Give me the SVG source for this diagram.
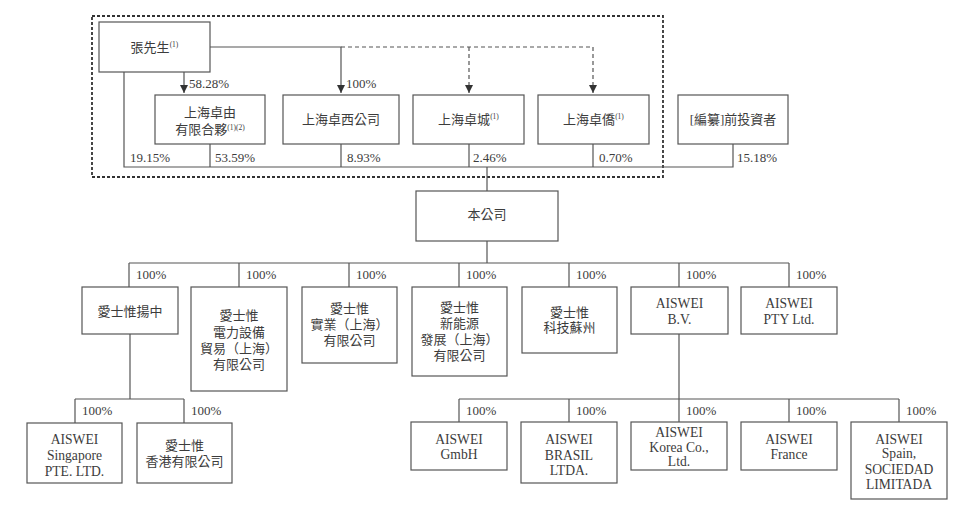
<svg xmlns="http://www.w3.org/2000/svg" width="960" height="511" viewBox="0 0 960 511">
<style>
.bx{fill:#fff;stroke:#555;stroke-width:1.2}
.ln{fill:none;stroke:#555;stroke-width:1.2}
.ds{fill:none;stroke:#555;stroke-width:1.2;stroke-dasharray:4 3}
.t{font-family:"Liberation Serif","Noto Sans CJK TC",serif;font-size:13px;fill:#3c3c3c;text-anchor:middle}
.e{font-size:13.6px}
.p{font-family:"Liberation Serif","Noto Sans CJK TC",serif;font-size:13px;fill:#3c3c3c}
.s{font-size:7.5px}
</style>
<defs>
<marker id="ah" viewBox="0 0 10 10" refX="10" refY="5" markerWidth="8" markerHeight="8" markerUnits="userSpaceOnUse" orient="auto">
<path d="M0,0 L10,5 L0,10 z" fill="#333"/>
</marker>
</defs>
<rect x="92" y="16" width="571" height="161" fill="none" stroke="#333" stroke-width="1.8" stroke-dasharray="3 2"/>
<g id="connectors">
<path class="ln" d="M210,47 H341 V93" marker-end="url(#ah)"/>
<path class="ln" d="M184,72 V93" marker-end="url(#ah)"/>
<path class="ds" d="M341,47 H593 V93" marker-end="url(#ah)"/>
<path class="ds" d="M469,47 V93" marker-end="url(#ah)"/>
<path class="ln" d="M124,72 V167 H733 V144"/>
<path class="ln" d="M210,144 V167 M341,144 V167 M469,144 V167 M593,144 V167"/>
<path class="ln" d="M487,167 V191"/>
<path class="ln" d="M487,241 V263 M129,263 H789 M129,263 V287 M239,263 V287 M349,263 V287 M459,263 V287 M569,263 V287 M679,263 V287 M789,263 V287"/>
<path class="ln" d="M130,334 V399 M75,399 H184 M75,399 V423 M184,399 V423"/>
<path class="ln" d="M679,334 V399 M459,399 H899 M459,399 V422 M569,399 V422 M679,399 V422 M789,399 V422 M899,399 V422"/>
<text class="p" x="189" y="88">58.28%</text>
<text class="p" x="346" y="88">100%</text>
<text class="p" x="130" y="162">19.15%</text>
<text class="p" x="215" y="162">53.59%</text>
<text class="p" x="347" y="162">8.93%</text>
<text class="p" x="473" y="162">2.46%</text>
<text class="p" x="599" y="162">0.70%</text>
<text class="p" x="737" y="162">15.18%</text>
<text class="p" x="136" y="279">100%</text>
<text class="p" x="246" y="279">100%</text>
<text class="p" x="356" y="279">100%</text>
<text class="p" x="466" y="279">100%</text>
<text class="p" x="576" y="279">100%</text>
<text class="p" x="686" y="279">100%</text>
<text class="p" x="796" y="279">100%</text>
<text class="p" x="82" y="415">100%</text>
<text class="p" x="191" y="415">100%</text>
<text class="p" x="466" y="415">100%</text>
<text class="p" x="576" y="415">100%</text>
<text class="p" x="686" y="415">100%</text>
<text class="p" x="796" y="415">100%</text>
<text class="p" x="906" y="415">100%</text>
</g>
<g id="n-zhang"><rect class="bx" x="99" y="22" width="111" height="50"/><text class="t" x="154.5" y="52">張先生<tspan class="s" dy="-5">(1)</tspan></text></g>
<g id="n-zhuoyou"><rect class="bx" x="155" y="95" width="110" height="49"/><text class="t" x="210" y="117">上海卓由</text><text class="t" x="210" y="134">有限合夥<tspan class="s" dy="-4">(1)(2)</tspan></text></g>
<g id="n-zhuoxi"><rect class="bx" x="283" y="95" width="116" height="49"/><text class="t" x="341" y="124">上海卓西公司</text></g>
<g id="n-zhuocheng"><rect class="bx" x="413" y="95" width="111" height="49"/><text class="t" x="468.5" y="124">上海卓城<tspan class="s" dy="-5">(1)</tspan></text></g>
<g id="n-zhuoqiao"><rect class="bx" x="538" y="95" width="111" height="49"/><text class="t" x="593.5" y="124">上海卓僑<tspan class="s" dy="-5">(1)</tspan></text></g>
<g id="n-preipo"><rect class="bx" x="678" y="95" width="110" height="49"/><text class="t" x="733" y="124">[編纂]前投資者</text></g>
<g id="n-company"><rect class="bx" x="416" y="191" width="142" height="50"/><text class="t" x="487" y="219">本公司</text></g>
<g id="n-yangzhong"><rect class="bx" x="82" y="287" width="96" height="47"/><text class="t" x="130" y="316">愛士惟揚中</text></g>
<g id="n-power"><rect class="bx" x="191" y="287" width="96" height="104"/><text class="t" x="239" y="320">愛士惟</text><text class="t" x="239" y="337">電力設備</text><text class="t" x="239" y="353">貿易（上海）</text><text class="t" x="239" y="369">有限公司</text></g>
<g id="n-shiye"><rect class="bx" x="302" y="287" width="95" height="76"/><text class="t" x="349.5" y="313">愛士惟</text><text class="t" x="349.5" y="329">實業（上海）</text><text class="t" x="349.5" y="345">有限公司</text></g>
<g id="n-newenergy"><rect class="bx" x="412" y="287" width="95" height="89"/><text class="t" x="459.5" y="312">愛士惟</text><text class="t" x="459.5" y="328">新能源</text><text class="t" x="459.5" y="344">發展（上海）</text><text class="t" x="459.5" y="360">有限公司</text></g>
<g id="n-suzhou"><rect class="bx" x="522" y="287" width="95" height="66"/><text class="t" x="569.5" y="317">愛士惟</text><text class="t" x="569.5" y="332">科技蘇州</text></g>
<g id="n-bv"><rect class="bx" x="631" y="287" width="97" height="47"/><text class="t e" x="679.5" y="308">AISWEI</text><text class="t e" x="679.5" y="324">B.V.</text></g>
<g id="n-pty"><rect class="bx" x="741" y="287" width="96" height="47"/><text class="t e" x="789" y="308">AISWEI</text><text class="t e" x="789" y="324">PTY Ltd.</text></g>
<g id="n-singapore"><rect class="bx" x="27" y="423" width="95" height="60"/><text class="t e" x="74.5" y="444">AISWEI</text><text class="t e" x="74.5" y="460">Singapore</text><text class="t e" x="74.5" y="476">PTE. LTD.</text></g>
<g id="n-hk"><rect class="bx" x="137" y="423" width="95" height="60"/><text class="t" x="184.5" y="450">愛士惟</text><text class="t" x="184.5" y="466">香港有限公司</text></g>
<g id="n-gmbh"><rect class="bx" x="411" y="422" width="96" height="48"/><text class="t e" x="459" y="444">AISWEI</text><text class="t e" x="459" y="459">GmbH</text></g>
<g id="n-brasil"><rect class="bx" x="521" y="422" width="96" height="61"/><text class="t e" x="569" y="444">AISWEI</text><text class="t e" x="569" y="460">BRASIL</text><text class="t e" x="569" y="475">LTDA.</text></g>
<g id="n-korea"><rect class="bx" x="631" y="422" width="96" height="48"/><text class="t e" x="679" y="437">AISWEI</text><text class="t e" x="679" y="452">Korea Co.,</text><text class="t e" x="679" y="466">Ltd.</text></g>
<g id="n-france"><rect class="bx" x="741" y="422" width="96" height="48"/><text class="t e" x="789" y="444">AISWEI</text><text class="t e" x="789" y="459">France</text></g>
<g id="n-spain"><rect class="bx" x="851" y="422" width="96" height="77"/><text class="t e" x="899" y="444">AISWEI</text><text class="t e" x="899" y="458">Spain,</text><text class="t e" x="899" y="474">SOCIEDAD</text><text class="t e" x="899" y="489">LIMITADA</text></g>
</svg>
